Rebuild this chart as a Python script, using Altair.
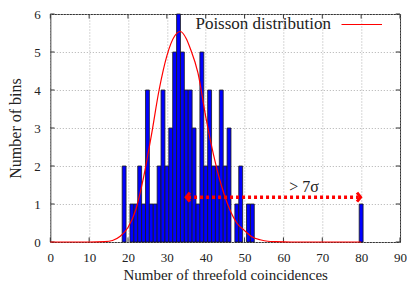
import altair as alt
import pandas as pd

# ---- data ----
bin_centers = [19, 21, 22, 23, 24, 25, 26, 27, 28, 29, 30, 31, 32, 33, 34, 35, 36, 37, 38,
               39, 40, 41, 42, 43, 44, 45, 46, 48, 49, 51, 52, 80]
bin_counts = [2, 1, 1, 2, 1, 4, 1, 1, 2, 4, 2, 3, 5, 6, 5, 4, 4, 3, 1,
              5, 2, 4, 2, 2, 4, 2, 3, 1, 2, 1, 1, 1]

curve_x = [0, 10, 14, 16, 18, 20, 22, 24, 26, 28, 30, 32, 33.5, 35, 36, 38, 40, 42, 44,
           46, 48, 50, 52, 54, 56, 58, 62, 70, 80]
curve_y = [0, 0, 0.01, 0.04, 0.15, 0.38, 0.85, 1.7, 2.8, 4.0, 4.9, 5.42, 5.54, 5.35, 5.1,
           4.45, 3.3, 2.3, 1.5, 0.9, 0.5, 0.3, 0.13, 0.06, 0.02, 0.01, 0, 0, 0]

x_ticks = [0, 10, 20, 30, 40, 50, 60, 70, 80, 90]
y_ticks = [0, 1, 2, 3, 4, 5, 6]

arrow_x = [35.45, 79.4]
arrow_y = 1.18
arrow_label = "> 7σ"
arrow_label_x = 65.3
legend_label = "Poisson distribution"
x_title = "Number of threefold coincidences"
y_title = "Number of bins"

FONT = "Liberation Serif"
W, H = 349.7, 228

bars = pd.DataFrame({
    "x0": [c - 0.5 for c in bin_centers],
    "x1": [c + 0.5 for c in bin_centers],
    "y0": [0] * len(bin_centers),
    "n": bin_counts,
})
curve = pd.DataFrame({"x": curve_x, "y": curve_y})

xs = alt.Scale(domain=[0, 90], nice=False, zero=False)
ys = alt.Scale(domain=[0, 6], nice=False, zero=False)

x_axis = alt.Axis(values=x_ticks, title=x_title, grid=True, gridDash=[1, 2],
                  gridColor="#b0b0b0", tickSize=0, labelPadding=9, titlePadding=3,
                  labelFont=FONT, titleFont=FONT, labelFontSize=13, titleFontSize=15,
                  labelColor="#222", titleColor="#222", titleFontWeight="normal",
                  domain=False, labelFlush=False)
y_axis = alt.Axis(values=y_ticks, title=y_title, grid=True, gridDash=[1, 2],
                  gridColor="#b0b0b0", tickSize=0, labelPadding=10, titlePadding=10,
                  labelFont=FONT, titleFont=FONT, labelFontSize=13, titleFontSize=16,
                  labelColor="#222", titleColor="#222", titleFontWeight="normal",
                  domain=False, labelFlush=False)


def X(f):
    return alt.X(f, scale=xs, axis=x_axis)


def Y(f):
    return alt.Y(f, scale=ys, axis=y_axis)


# inward ticks on all four sides
xt = pd.DataFrame({"t": x_ticks, "b0": [0] * len(x_ticks), "b1": [0.12] * len(x_ticks),
                   "t0": [6] * len(x_ticks), "t1": [5.88] * len(x_ticks)})
yt = pd.DataFrame({"t": y_ticks, "l0": [0] * len(y_ticks), "l1": [1.1] * len(y_ticks),
                   "r0": [90] * len(y_ticks), "r1": [88.9] * len(y_ticks)})
tick_style = dict(color="#333", strokeWidth=1)
ticks_bottom = alt.Chart(xt).mark_rule(**tick_style).encode(
    x=X("t:Q"), y=Y("b0:Q"), y2="b1:Q")
ticks_top = alt.Chart(xt).mark_rule(**tick_style).encode(
    x=X("t:Q"), y=Y("t0:Q"), y2="t1:Q")
ticks_left = alt.Chart(yt).mark_rule(**tick_style).encode(
    y=Y("t:Q"), x=X("l0:Q"), x2="l1:Q")
ticks_right = alt.Chart(yt).mark_rule(**tick_style).encode(
    y=Y("t:Q"), x=X("r0:Q"), x2="r1:Q")

hist = alt.Chart(bars).mark_rect(color="#0000ff", stroke="#1a1a1a", strokeWidth=0.8).encode(
    x=X("x0:Q"), x2="x1:Q", y=Y("y0:Q"), y2="n:Q",
)

line = alt.Chart(curve).mark_line(color="#ff0000", strokeWidth=1.2, interpolate="monotone").encode(
    x=X("x:Q"), y=Y("y:Q"),
)

arrow_df = pd.DataFrame({"a": [arrow_x[0]], "b": [arrow_x[1]], "y": [arrow_y]})
arrow_line = alt.Chart(arrow_df).mark_rule(color="#ff0000", strokeWidth=3.5, strokeDash=[3, 3]).encode(
    x=X("a:Q"), x2="b:Q", y=Y("y:Q"))
heads = pd.DataFrame({"x": arrow_x, "y": [arrow_y, arrow_y],
                      "s": ["M 0.4 -1 L -0.4 0 L 0.4 1", "M -0.4 -1 L 0.4 0 L -0.4 1"]})
arrow_heads = alt.Chart(heads).mark_point(filled=False, color="#ff0000", strokeWidth=3,
                                          size=81, opacity=1).encode(
    x=X("x:Q"), y=Y("y:Q"),
    shape=alt.Shape("s:N", scale=None, legend=None))
arrow_text = alt.Chart(pd.DataFrame({"x": [arrow_label_x], "y": [arrow_y], "t": [arrow_label]})).mark_text(
    font=FONT, fontSize=16, color="#222", align="center", baseline="alphabetic", dy=-5).encode(
    x=X("x:Q"), y=Y("y:Q"), text="t:N")

legend_text = alt.Chart(pd.DataFrame({"t": [legend_label]})).mark_text(
    font=FONT, fontSize=17, color="#222", align="right", baseline="alphabetic").encode(
    x=alt.value(280.7), y=alt.value(15), text="t:N")
legend_line = alt.Chart(pd.DataFrame({"t": [legend_label]})).mark_rule(
    color="#ff0000", strokeWidth=1.2).encode(
    x=alt.value(291.2), x2=alt.value(331.7), y=alt.value(10.5))

chart = alt.layer(
    ticks_bottom, ticks_top, ticks_left, ticks_right,
    hist, line, arrow_line, arrow_heads, arrow_text, legend_text, legend_line,
).properties(
    width=W, height=H,
    padding={"left": 42.3, "top": 6, "right": 7, "bottom": 42},
    autosize=alt.AutoSizeParams(type="none"),
    background="white",
).configure_view(stroke="#333", strokeWidth=1)

chart.save("out.html", embed_options={"renderer": "svg", "actions": False})
